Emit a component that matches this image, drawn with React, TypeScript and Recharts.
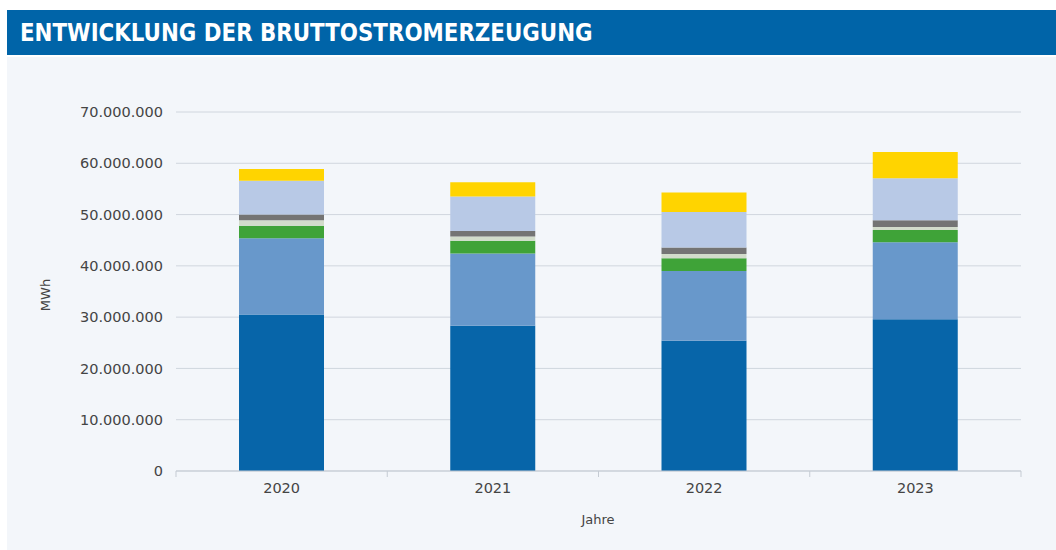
import { BarChart, Bar, XAxis, YAxis, CartesianGrid } from "recharts";

const years = ["2020", "2021", "2022", "2023"];

// MWh, von unten nach oben gestapelt
const dunkelblau = [30500000, 28300000, 25400000, 29600000];
const mittelblau = [14900000, 14100000, 13600000, 15000000];
const gruen = [2400000, 2500000, 2500000, 2400000];
const hellgrau = [1100000, 800000, 800000, 600000];
const dunkelgrau = [1100000, 1100000, 1300000, 1300000];
const hellblau = [6600000, 6700000, 6900000, 8200000];
const gelb = [2300000, 2800000, 3800000, 5100000];

const yTicks = [0, 10000000, 20000000, 30000000, 40000000, 50000000, 60000000, 70000000];

const series = [
  { key: "dunkelblau", values: dunkelblau, color: "#0765a9" },
  { key: "mittelblau", values: mittelblau, color: "#6898cb" },
  { key: "gruen", values: gruen, color: "#3fa338" },
  { key: "hellgrau", values: hellgrau, color: "#d2dccb" },
  { key: "dunkelgrau", values: dunkelgrau, color: "#747474" },
  { key: "hellblau", values: hellblau, color: "#b8c9e6" },
  { key: "gelb", values: gelb, color: "#ffd400" },
];

const data = years.map((year, i) => {
  const row: Record<string, string | number> = { year };
  series.forEach((s) => (row[s.key] = s.values[i]));
  return row;
});

const CHART_W = 1049;
const CHART_H = 493;
const MARGIN = { top: 55, right: 35, bottom: 49, left: 0 };
const Y_AXIS_W = 169;
const BAND = (CHART_W - MARGIN.left - MARGIN.right - Y_AXIS_W) / years.length;

const fmt = (v: number) => v.toLocaleString("de-DE");

const YearTick = (props: any) => {
  const { x, y, payload, index } = props;
  const half = BAND / 2;
  return (
    <g>
      <line x1={x - half} x2={x - half} y1={y} y2={y + 6} stroke="#c5cbd3" />
      {index === years.length - 1 && (
        <line x1={x + half} x2={x + half} y1={y} y2={y + 6} stroke="#c5cbd3" />
      )}
      <text
        x={x}
        y={y + 22}
        textAnchor="middle"
        fill="#444"
        fontSize={14.5}
        fontFamily="DejaVu Sans, sans-serif"
      >
        {payload.value}
      </text>
    </g>
  );
};

export default function App() {
  return (
    <div style={{ position: "relative", width: 1056, height: 550 }}>
      <style>{`body{margin:0;overflow:hidden}`}</style>
      <div
        style={{
          position: "absolute",
          left: 7,
          top: 10,
          width: 1049,
          height: 45,
          background: "#0064a8",
          color: "#fff",
          fontFamily: "'DejaVu Sans Condensed', 'DejaVu Sans', sans-serif",
          fontWeight: "bold",
          fontSize: 25,
          lineHeight: "45px",
          paddingLeft: 13,
          boxSizing: "border-box",
          whiteSpace: "nowrap",
        }}
      >
        <span style={{ display: "inline-block", transform: "scaleX(0.95)", transformOrigin: "left center" }}>
          ENTWICKLUNG DER BRUTTOSTROMERZEUGUNG
        </span>
      </div>
      <div
        style={{
          position: "absolute",
          left: 7,
          top: 57,
          width: CHART_W,
          height: CHART_H,
          background: "#f3f6fa",
        }}
      >
        <BarChart width={CHART_W} height={CHART_H} data={data} margin={MARGIN} barSize={85}>
          <CartesianGrid vertical={false} stroke="#d0d6de" />
          <XAxis
            dataKey="year"
            axisLine={{ stroke: "#c5cbd3" }}
            tickLine={false}
            tickSize={0}
            tickMargin={0}
            tick={<YearTick />}
            height={30}
            interval={0}
          />
          <YAxis
            width={Y_AXIS_W}
            domain={[0, 70000000]}
            ticks={yTicks}
            tickFormatter={fmt}
            axisLine={false}
            tickLine={false}
            tickSize={0}
            tickMargin={13}
            tick={{ fill: "#444", fontSize: 14.5, fontFamily: "DejaVu Sans, sans-serif" }}
          />
          {series.map((s) => (
            <Bar key={s.key} dataKey={s.key} stackId="a" fill={s.color} isAnimationActive={false} />
          ))}
        </BarChart>
        <div
          style={{
            position: "absolute",
            left: 38,
            top: 238,
            transform: "translate(-50%, -50%) rotate(-90deg)",
            fontFamily: "DejaVu Sans, sans-serif",
            fontSize: 13,
            color: "#444",
          }}
        >
          MWh
        </div>
        <div
          style={{
            position: "absolute",
            left: 591,
            top: 462,
            transform: "translate(-50%, -50%)",
            fontFamily: "DejaVu Sans, sans-serif",
            fontSize: 13,
            color: "#444",
          }}
        >
          Jahre
        </div>
      </div>
    </div>
  );
}
